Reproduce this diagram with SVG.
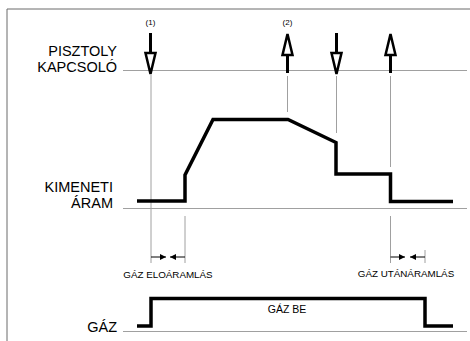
<svg xmlns="http://www.w3.org/2000/svg" width="470" height="341" viewBox="0 0 470 341">
<style>
.lbl{font-family:"Liberation Sans",Arial,sans-serif;font-size:14.5px;fill:#000}
.sm{font-family:"Liberation Sans",Arial,sans-serif;font-size:9.8px;fill:#000}
.tiny{font-family:"Liberation Sans",Arial,sans-serif;font-size:8px;fill:#000}
.grid{stroke:#a0a0a0;stroke-width:1;fill:none}
.wave{stroke:#000;stroke-width:3.5;fill:none;stroke-linejoin:miter}
.shaft{stroke:#000;stroke-width:3}
.head{fill:#fff;stroke:#000;stroke-width:2.5;stroke-linejoin:miter}
.dim{stroke:#000;stroke-width:1}
</style>
<defs>
<marker id="ah" viewBox="0 0 10 10" refX="10" refY="5" markerWidth="7" markerHeight="6" orient="auto" markerUnits="userSpaceOnUse">
<path d="M0,0 L10,5 L0,10 z" fill="#000"/>
</marker>
</defs>
<rect width="470" height="341" fill="#fff"/>
<g id="frame"><path d="M7,341 V9 H470" stroke="#6a6a6a" stroke-width="1" fill="none"/></g>
<g id="labels">
<text class="lbl" x="117" y="56" text-anchor="end">PISZTOLY</text>
<text class="lbl" x="117" y="72" text-anchor="end">KAPCSOLÓ</text>
<text class="lbl" x="113" y="192" text-anchor="end">KIMENETI</text>
<text class="lbl" x="113" y="208" text-anchor="end">ÁRAM</text>
<text class="lbl" x="117" y="332" text-anchor="end">GÁZ</text>
<text class="tiny" x="150.5" y="25" text-anchor="middle">(1)</text>
<text class="tiny" x="287.5" y="25" text-anchor="middle">(2)</text>
<text class="sm" x="168" y="278" text-anchor="middle">GÁZ ELOÁRAMLÁS</text>
<text class="sm" x="406" y="277" text-anchor="middle">GÁZ UTÁNÁRAMLÁS</text>
<text class="sm" x="287" y="313" text-anchor="middle" style="font-size:10.5px">GÁZ BE</text>
</g>
<g id="connectors">
<path class="grid" d="M123,70.5 H467 M123,208.5 H467 M123,331.5 H467"/>
<path class="grid" d="M151,75 V263 M185,216 V263 M287.5,76 V112 M336.5,76 V133 M390.5,76 V167 M390.5,216 V263 M425,250 V263"/>
<line class="dim" x1="151" y1="257" x2="166" y2="257" marker-end="url(#ah)"/>
<line class="dim" x1="185" y1="257" x2="170" y2="257" marker-end="url(#ah)"/>
<line class="dim" x1="390.5" y1="257" x2="405" y2="257" marker-end="url(#ah)"/>
<line class="dim" x1="425" y1="257" x2="410" y2="257" marker-end="url(#ah)"/>
</g>
<g id="arrow1"><line class="shaft" x1="150.5" y1="33" x2="150.5" y2="53"/><path class="head" d="M145.5,53 H155.5 L150.5,74 Z"/></g>
<g id="arrow2"><line class="shaft" x1="287.5" y1="54" x2="287.5" y2="73"/><path class="head" d="M287.5,34 L292.5,55 H282.5 Z"/></g>
<g id="arrow3"><line class="shaft" x1="336.5" y1="33" x2="336.5" y2="53"/><path class="head" d="M331.5,53 H341.5 L336.5,74 Z"/></g>
<g id="arrow4"><line class="shaft" x1="390.5" y1="54" x2="390.5" y2="73"/><path class="head" d="M390.5,34 L395.5,55 H385.5 Z"/></g>
<g id="current"><path class="wave" d="M137,201 H185 V175 L213,119.5 H288 L336,142.5 V174 H390.5 V201.5 H453"/></g>
<g id="gas"><path class="wave" d="M137,326 H151 V298.5 H425 V326 H453"/></g>
</svg>
